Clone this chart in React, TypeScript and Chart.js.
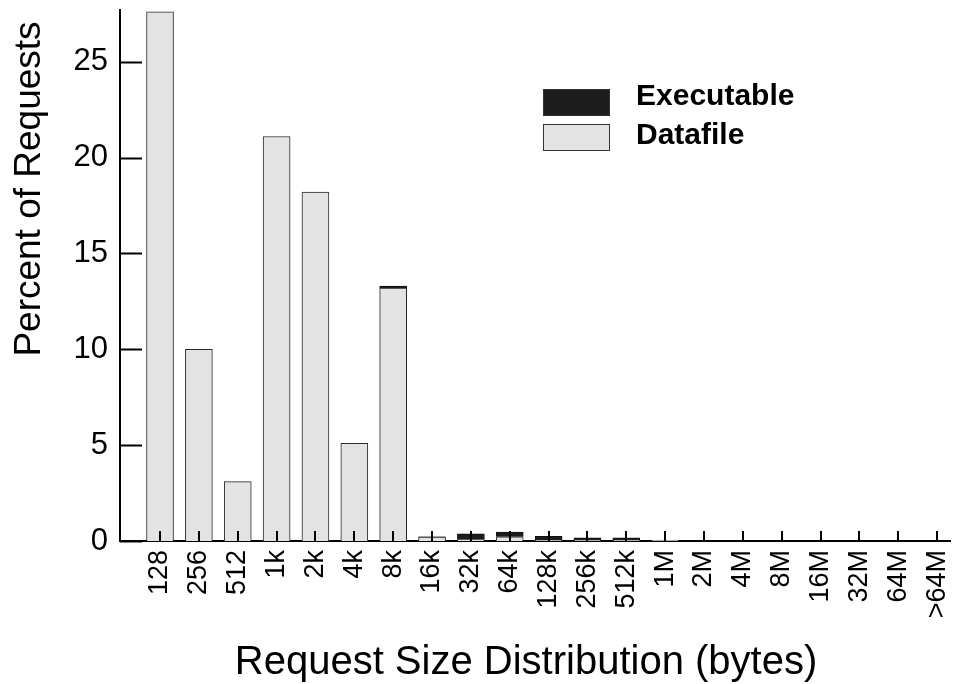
import React, { useEffect, useRef } from "react";
import { Chart, registerables } from "chart.js";

Chart.register(...registerables);

// Request size buckets (bytes)
const sizeLabels: string[] = [
  "128", "256", "512", "1k", "2k", "4k", "8k",
  "16k", "32k", "64k", "128k", "256k", "512k",
  "1M", "2M", "4M", "8M", "16M", "32M", "64M", ">64M",
];

// Percent of requests per bucket
const datafilePct: number[] = [
  27.6, 10.0, 3.1, 21.1, 18.2, 5.1, 13.2,
  0.2, 0.1, 0.22, 0.05, 0.05, 0.05,
  0.05, 0, 0, 0, 0, 0, 0, 0,
];
const executablePct: number[] = [
  0, 0, 0, 0, 0, 0, 0.1,
  0.02, 0.28, 0.25, 0.2, 0.12, 0.12,
  0, 0, 0, 0, 0, 0, 0, 0,
];

const yTicks: number[] = [0, 5, 10, 15, 20, 25];

const FONT = "'Liberation Sans', Arial, Helvetica, sans-serif";
const DATAFILE_FILL = "#e3e3e3";
const EXEC_FILL = "#1c1c1c";

const decorations = {
  id: "decorations",
  afterDraw(chart: any) {
    const { ctx, chartArea, scales } = chart;
    const xs = scales.x;
    const ys = scales.y;
    ctx.save();
    ctx.strokeStyle = "#000";
    ctx.lineWidth = 2;
    // inward y ticks
    yTicks.forEach((v) => {
      const py = Math.round(ys.getPixelForValue(v)) + 0.5;
      ctx.beginPath();
      ctx.moveTo(chartArea.left, py);
      ctx.lineTo(chartArea.left + 22, py);
      ctx.stroke();
    });
    // inward x ticks
    sizeLabels.forEach((_, i) => {
      const px = Math.round(xs.getPixelForValue(i));
      ctx.beginPath();
      ctx.moveTo(px, chartArea.bottom);
      ctx.lineTo(px, chartArea.bottom - 10);
      ctx.stroke();
    });

    // axis titles
    ctx.fillStyle = "#000";
    ctx.textAlign = "center";
    ctx.textBaseline = "middle";
    ctx.font = `37px ${FONT}`;
    ctx.save();
    ctx.translate(30, 189);
    ctx.rotate(-Math.PI / 2);
    ctx.fillText("Percent of Requests", 0, 0);
    ctx.restore();
    ctx.font = `40px ${FONT}`;
    ctx.fillText("Request Size Distribution (bytes)", 526, 663);

    // legend
    const items = chart.data.datasets.slice().reverse();
    const boxTops = [89, 124];
    const textMids = [97, 136];
    ctx.font = `bold 30px ${FONT}`;
    ctx.textAlign = "left";
    items.forEach((ds: any, k: number) => {
      const top = boxTops[k];
      ctx.fillStyle = ds.backgroundColor;
      ctx.fillRect(543, top, 67, 27);
      ctx.lineWidth = 1;
      ctx.strokeStyle = "#333";
      ctx.strokeRect(543.5, top + 0.5, 66, 26);
      ctx.fillStyle = "#000";
      ctx.fillText(ds.label, 636, textMids[k]);
    });
    ctx.restore();
  },
};

export default function App() {
  const ref = useRef<HTMLCanvasElement | null>(null);

  useEffect(() => {
    if (!ref.current) return;
    const chart = new Chart(ref.current, {
      type: "bar",
      data: {
        datasets: [
          {
            label: "Datafile",
            data: datafilePct.map((v, i) => ({ x: i, y: v })),
            backgroundColor: DATAFILE_FILL,
            borderColor: "#2a2a2a",
            borderWidth: 1,
            barThickness: 27,
          },
          {
            label: "Executable",
            data: executablePct.map((v, i) => ({ x: i, y: v })),
            backgroundColor: EXEC_FILL,
            borderColor: "#111",
            borderWidth: 1,
            barThickness: 27,
          },
        ],
      },
      options: {
        animation: false,
        responsive: true,
        maintainAspectRatio: false,
        layout: { padding: { top: 10, right: 9, left: 0, bottom: 0 } },
        plugins: { legend: { display: false }, tooltip: { enabled: false } },
        scales: {
          x: {
            type: "linear",
            stacked: true,
            offset: false,
            min: -1.03,
            max: 20.33,
            grid: { display: false, drawTicks: false, offset: false },
            border: { display: true, color: "#000", width: 2 },
            afterBuildTicks: (scale: any) => {
              scale.ticks = sizeLabels.map((_, i) => ({ value: i }));
            },
            afterFit: (scale: any) => {
              scale.height = 143;
              scale.paddingLeft = 0;
              scale.paddingRight = 0;
            },
            ticks: {
              autoSkip: false,
              minRotation: 90,
              maxRotation: 90,
              padding: 9,
              color: "#000",
              font: { family: FONT, size: 27 },
              callback: (v: any) => sizeLabels[v] ?? "",
            },
          },
          y: {
            stacked: true,
            min: 0,
            max: 27.7,
            grid: { display: false, drawTicks: false },
            border: { display: true, color: "#000", width: 2 },
            afterBuildTicks: (scale: any) => {
              scale.ticks = yTicks.map((v) => ({ value: v }));
            },
            afterFit: (scale: any) => {
              scale.width = 120;
              scale.paddingTop = 0;
              scale.paddingBottom = 0;
            },
            ticks: {
              padding: 12,
              color: "#000",
              font: { family: FONT, size: 31 },
            },
          },
        },
      },
      plugins: [decorations],
    });
    return () => chart.destroy();
  }, []);

  return (
    <div style={{ position: "absolute", left: 0, top: 0, width: 959, height: 684 }}>
      <canvas ref={ref} />
    </div>
  );
}
